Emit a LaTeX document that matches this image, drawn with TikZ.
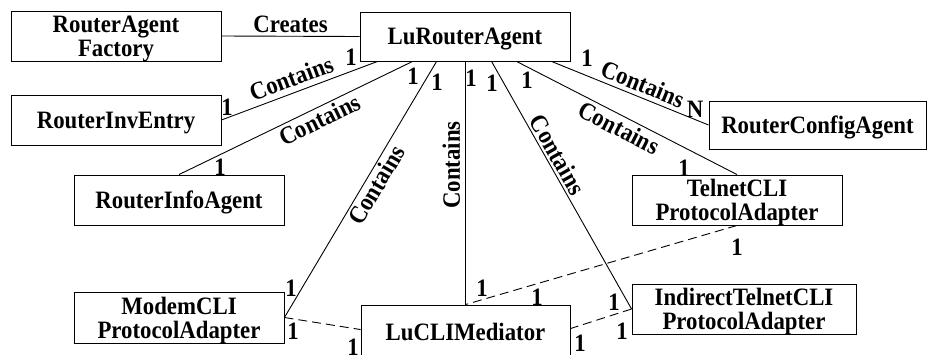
\documentclass[tikz,border=0pt]{standalone}
\usepackage{fontspec}
\setmainfont{Liberation Serif}[FakeStretch=0.912]
\usetikzlibrary{calc}
\begin{document}
\begin{tikzpicture}[x=1pt, y=-1pt,
  font=\fontsize{25}{24}\selectfont\bfseries,
  line width=0.9pt,
  box/.style={draw, minimum width=210pt, minimum height=50pt, inner sep=0pt,
    text depth=0pt, align=center},
  mult/.style={inner sep=0pt},
  role/.style={sloped, inner sep=0pt},
  assoc/.style={dash pattern=on 9pt off 5pt}]
\useasboundingbox (0,0) rectangle (927,354);
\clip (0,0) rectangle (927,354);

% classes
\node[box] (fac) at (116,36) {RouterAgent\\Factory};
\node[box, minimum height=49pt] (lura) at (465,36.5) {LuRouterAgent};
\node[box] (inv) at (116,120) {RouterInvEntry};
\node[box] (info) at (179,200) {RouterInfoAgent};
\node[box, minimum width=217pt, minimum height=48pt] (cfg) at (817.5,125) {RouterConfigAgent};
\node[box] (tel) at (737,200) {TelnetCLI\\ProtocolAdapter};
\node[box, minimum width=224pt] (ind) at (744,309) {IndirectTelnetCLI\\ProtocolAdapter};
\node[box, minimum height=51pt] (modem) at (179,317.5) {ModemCLI\\ProtocolAdapter};
\node[box, minimum width=209pt, minimum height=54pt] (med) at (465.5,332) {LuCLIMediator};

% attachment points on the bottom edge of LuRouterAgent
\coordinate (pInv)   at ($(lura.south west)+(18,0)$);
\coordinate (pInfo)  at ($(lura.south west)+(53,0)$);
\coordinate (pModem) at ($(lura.south west)+(77,0)$);
\coordinate (pMed)   at (med.north |- lura.south);
\coordinate (pInd)   at ($(lura.south west)+(132,0)$);
\coordinate (pTel)   at ($(lura.south west)+(157,0)$);
\coordinate (pCfg)   at ($(lura.south west)+(192,0)$);

% creation
\draw (fac.east) -- (lura.west) node[midway, above=2.9pt, inner sep=0pt] {Creates};

% containment
\draw (pInv) -- (inv.east) node[role, pos=0.52, above=5.2pt] {Contains};
\draw (pInfo) -- (info.north) node[role, pos=0.42, below=2.7pt] {Contains};
\draw (pModem) -- (modem.east) node[role, pos=0.46, below=2.1pt] {Contains};
\draw (pMed) -- (med.north) node[pos=0.426, rotate=90, anchor=south, inner sep=0pt, outer sep=5.4pt] {Contains};
\draw (pInd) -- (ind.west) node[role, pos=0.40, above=2.6pt] {Contains};
\draw (pTel) -- (tel.north) node[role, pos=0.49, below=3pt] {Contains};
\draw (pCfg) -- (cfg.west) node[role, pos=0.55, above=4pt] {Contains};

% adapters used by the mediator
\draw[assoc] (modem.east) -- ($(med.north west)+(0,25)$);
\draw[assoc] (tel.south) -- (med.north);
\draw[assoc] (ind.west) -- ($(med.north east)+(0,24)$);

% multiplicities
\node[mult] (m1)  at (227,107) {1};
\node[mult] (m2)  at (351,57)  {1};
\node[mult] (m3)  at (220,167) {1};
\node[mult] (m4)  at (413,76)  {1};
\node[mult] (m5)  at (437,82)  {1};
\node[mult] (m6)  at (471,78)  {1};
\node[mult] (m7)  at (492,83)  {1};
\node[mult] (m8)  at (527,80)  {1};
\node[mult] (m9)  at (587,58)  {1};
\node[mult] (m10) at (695,109) {N};
\node[mult] (m11) at (684,168) {1};
\node[mult] (m12) at (291,288) {1};
\node[mult] (m13) at (614,302) {1};
\node[mult] (m14) at (737,247) {1};
\node[mult] (m15) at (482,288) {1};
\node[mult] (m16) at (537,297) {1};
\node[mult] (m17) at (293,331) {1};
\node[mult] (m18) at (353,347) {1};
\node[mult] (m19) at (622,331) {1};
\node[mult] (m20) at (580,343) {1};
\end{tikzpicture}
\end{document}
